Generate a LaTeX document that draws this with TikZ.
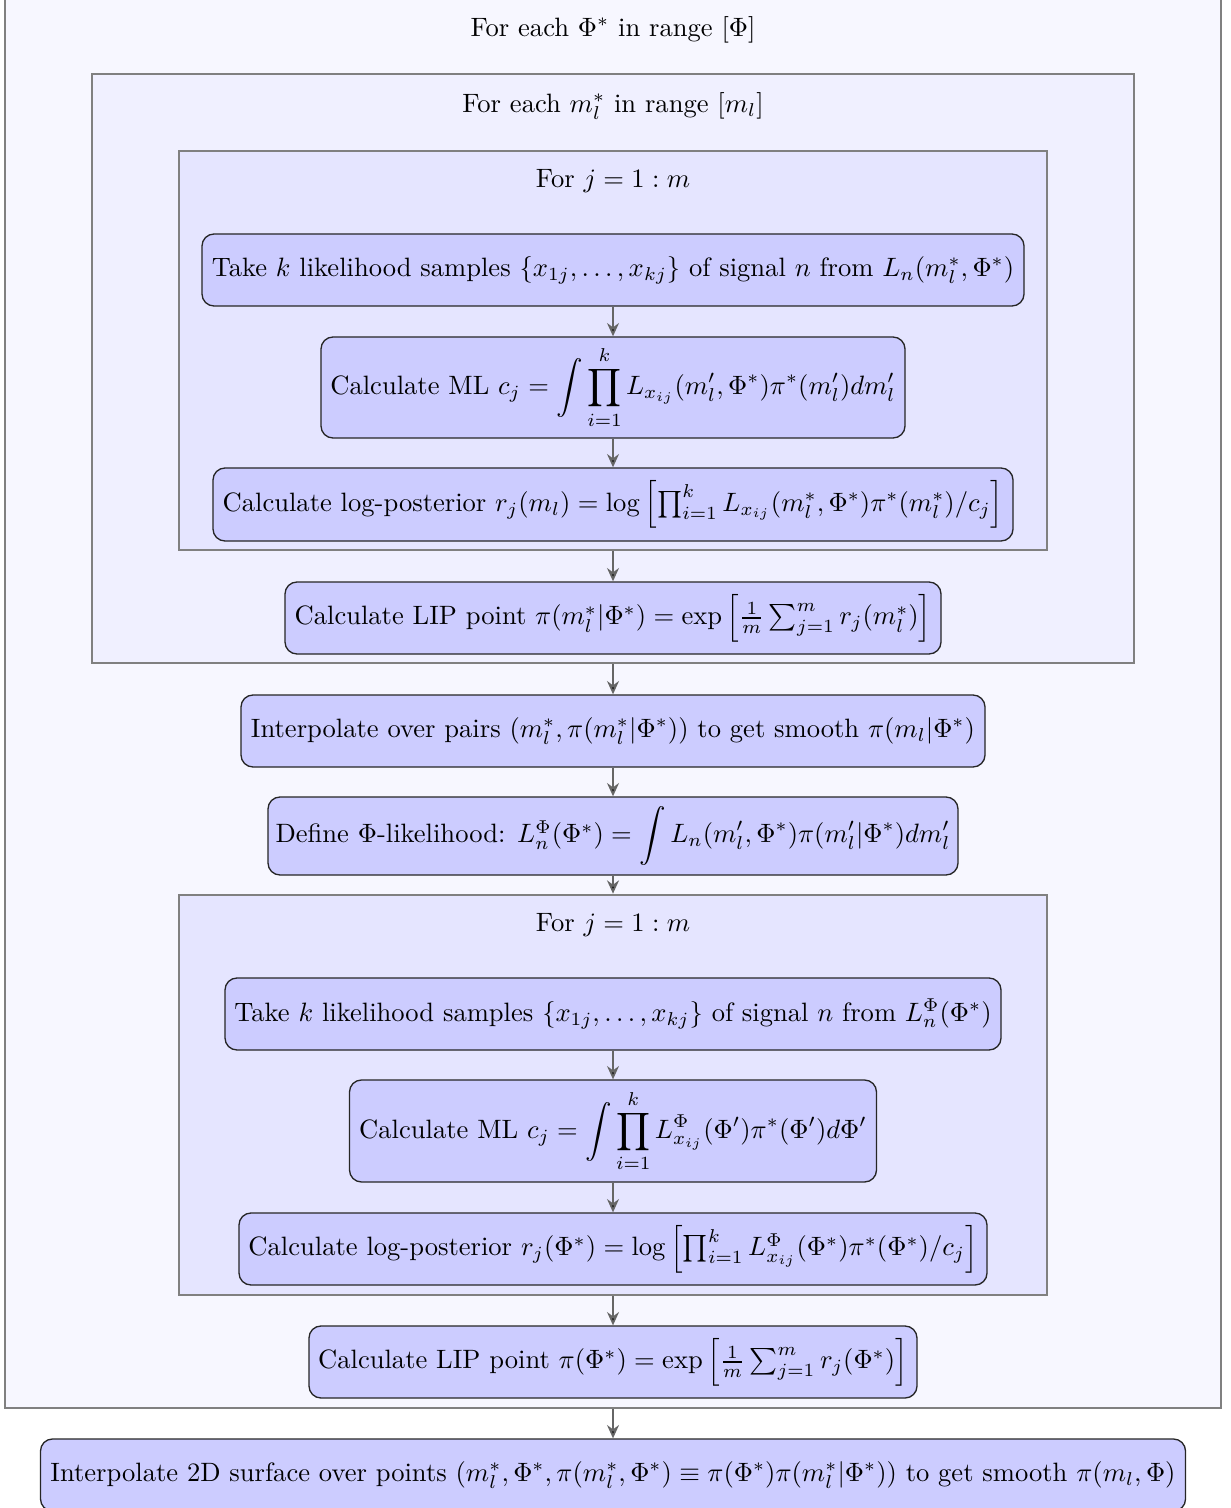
\documentclass[tikz,border=0pt]{standalone}
\usepackage{amsmath}
\usetikzlibrary{arrows.meta}
\newdimen\pxu \pxu=0.3765pt
\tikzset{
  cont/.style={draw=gray, line width=1pt, inner sep=0pt},
  stepbox/.style={draw=black!85, fill=blue!20, rounded corners=4.5pt, line width=0.5pt, inner sep=0pt, align=center},
  ttl/.style={inner sep=0pt},
  flow/.style={draw=black!60, line width=0.7pt, -{Stealth[length=5pt,width=4.5pt,fill=black]}}
}
\begin{document}
\begin{tikzpicture}[x=\pxu, y=-\pxu]
\useasboundingbox (0,0) rectangle (1230,1508);
% containers
\node[cont, fill=blue!3, minimum width={1216*\pxu}, minimum height={1410*\pxu}] (O) at (613,703) {};
\node[ttl] (Ot) at (613,30) {For each $\Phi^*$ in range $[\Phi]$};
\node[cont, fill=blue!6, minimum width={1042*\pxu}, minimum height={589*\pxu}] (B2box) at (613,368.5) {};
\node[ttl] (B2t) at (613,106) {For each $m_l^*$ in range $[m_l]$};
\node[cont, fill=blue!10, minimum width={868*\pxu}, minimum height={399*\pxu}] (B3box) at (613,350.5) {};
\node[ttl] (B3t) at (613,181) {For $j=1:m$};
\node[cont, fill=blue!10, minimum width={868*\pxu}, minimum height={400*\pxu}] (B4box) at (613,1095) {};
\node[ttl] (B4t) at (613,925) {For $j=1:m$};
% steps
\node[stepbox, minimum width={822*\pxu}, minimum height={72*\pxu}] (A1) at (613,270)
  {Take $k$ likelihood samples $\{x_{1j},\dots,x_{kj}\}$ of signal $n$ from $L_n(m_l^*,\Phi^*)$};
\node[stepbox, minimum width={584*\pxu}, minimum height={101*\pxu}] (A2) at (613,387.5)
  {Calculate ML $c_j=\displaystyle\int\prod_{i=1}^{k}L_{x_{ij}}(m_l',\Phi^*)\pi^*(m_l')dm_l'$};
\node[stepbox, minimum width={800*\pxu}, minimum height={73*\pxu}] (A3) at (613,504.5)
  {Calculate log-posterior $r_j(m_l)=\log\left[\prod_{i=1}^{k}L_{x_{ij}}(m_l^*,\Phi^*)\pi^*(m_l^*)/c_j\right]$};
\node[stepbox, minimum width={656*\pxu}, minimum height={72*\pxu}] (A4) at (613,618)
  {Calculate LIP point $\pi(m_l^*|\Phi^*)=\exp\left[\frac{1}{m}\sum_{j=1}^{m}r_j(m_l^*)\right]$};
\node[stepbox, minimum width={744*\pxu}, minimum height={72*\pxu}] (B1) at (613,731)
  {Interpolate over pairs $(m_l^*,\pi(m_l^*|\Phi^*))$ to get smooth $\pi(m_l|\Phi^*)$};
\node[stepbox, minimum width={690*\pxu}, minimum height={78*\pxu}] (B2) at (613,836)
  {Define $\Phi$-likelihood: $L_n^\Phi(\Phi^*)=\displaystyle\int L_n(m_l',\Phi^*)\pi(m_l'|\Phi^*)dm_l'$};
\node[stepbox, minimum width={776*\pxu}, minimum height={72*\pxu}] (C1) at (613,1014)
  {Take $k$ likelihood samples $\{x_{1j},\dots,x_{kj}\}$ of signal $n$ from $L_n^\Phi(\Phi^*)$};
\node[stepbox, minimum width={527*\pxu}, minimum height={102*\pxu}] (C2) at (613,1131)
  {Calculate ML $c_j=\displaystyle\int\prod_{i=1}^{k}L^\Phi_{x_{ij}}(\Phi')\pi^*(\Phi')d\Phi'$};
\node[stepbox, minimum width={748*\pxu}, minimum height={72*\pxu}] (C3) at (613,1249)
  {Calculate log-posterior $r_j(\Phi^*)=\log\left[\prod_{i=1}^{k}L^\Phi_{x_{ij}}(\Phi^*)\pi^*(\Phi^*)/c_j\right]$};
\node[stepbox, minimum width={608*\pxu}, minimum height={72*\pxu}] (C4) at (613,1362)
  {Calculate LIP point $\pi(\Phi^*)=\exp\left[\frac{1}{m}\sum_{j=1}^{m}r_j(\Phi^*)\right]$};
\node[stepbox, minimum width={1145*\pxu}, minimum height={72*\pxu}] (D) at (613,1475)
  {Interpolate 2D surface over points $(m_l^*,\Phi^*,\pi(m_l^*,\Phi^*)\equiv\pi(\Phi^*)\pi(m_l^*|\Phi^*))$ to get smooth $\pi(m_l,\Phi)$};
% connectors
\draw[flow] (A1) -- (A2);
\draw[flow] (A2) -- (A3);
\draw[flow] (B3box) -- (A4);
\draw[flow] (B2box) -- (B1);
\draw[flow] (B1) -- (B2);
\draw[flow] (B2) -- (B4box);
\draw[flow] (C1) -- (C2);
\draw[flow] (C2) -- (C3);
\draw[flow] (B4box) -- (C4);
\draw[flow] (O) -- (D);
\end{tikzpicture}
\end{document}
